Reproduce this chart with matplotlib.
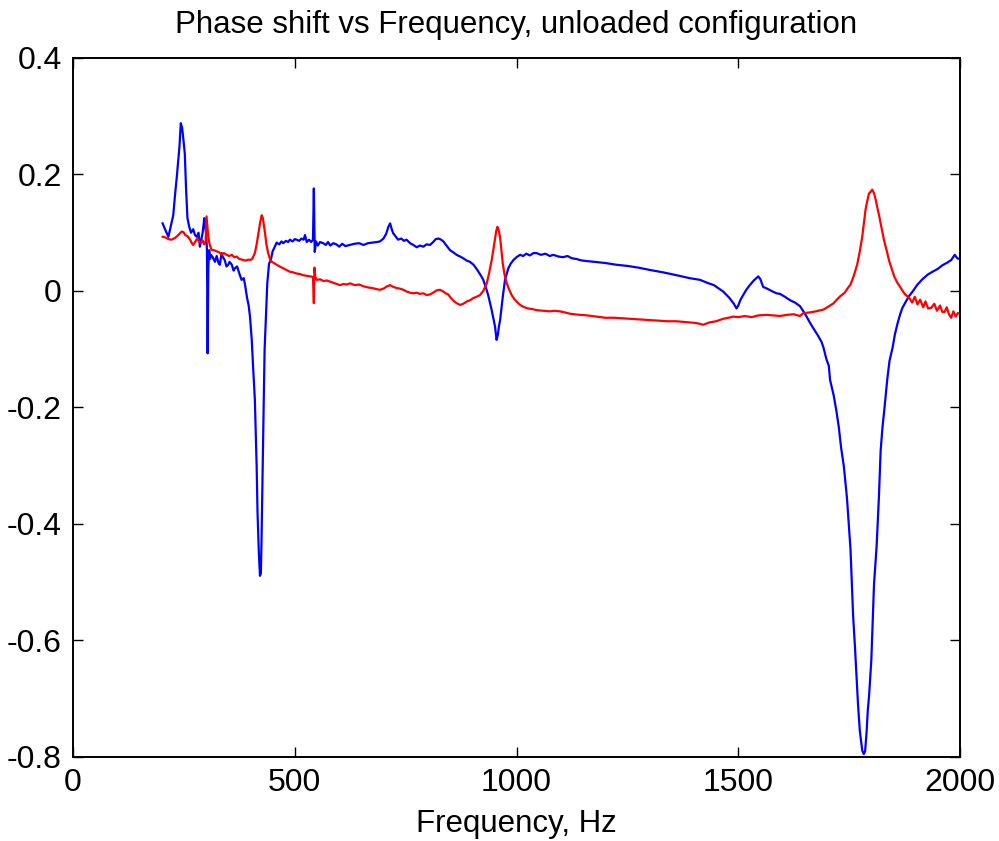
import matplotlib
matplotlib.use("Agg")
import matplotlib.pyplot as plt

# blue curve
freq_blue = [202, 208, 215, 220, 226, 230, 234, 240, 243, 246, 249, 252, 255, 258, 262, 266, 271, 275, 279, 283,
             286, 290, 292, 296, 298, 300, 302, 303.5, 305, 307, 309, 311, 315, 320, 324, 328, 331, 335, 338, 342,
             346, 350, 353, 358, 362, 365, 370, 375, 380, 385, 388, 392, 396, 399, 403, 406, 410, 414, 416, 419,
             421.5, 423.5, 425, 427, 430, 432, 435, 438, 442, 446, 450, 455, 459, 465, 470, 474, 480, 485, 489, 495,
             500, 504, 510, 515, 520, 523, 527, 532, 537, 541, 543, 545, 548, 552, 557, 564, 570, 575, 580, 587,
             594, 600, 607, 614, 624, 635, 645, 655, 665, 675, 685, 692, 700, 706, 711, 715, 719, 722, 728, 733,
             740, 746, 752, 760, 767, 775, 782, 790, 797, 805, 812, 818, 824, 830, 835, 842, 850, 858, 865, 873,
             880, 888, 895, 903, 909, 914, 920, 925, 930, 936, 940, 944, 948, 951.5, 954, 955, 958, 960, 963, 966,
             969, 974, 978, 981.5, 987, 993, 1000, 1008, 1015, 1022, 1030, 1038, 1045, 1055, 1065, 1075, 1083, 1095, 1105, 1115,
             1125, 1135, 1143, 1150, 1175, 1200, 1225, 1250, 1275, 1301, 1330, 1361, 1390, 1414, 1430, 1445, 1466, 1480, 1490, 1496,
             1500, 1505, 1511, 1518, 1526, 1535, 1545, 1550, 1556, 1565, 1575, 1586, 1594, 1605, 1617, 1628, 1639, 1646, 1654, 1662,
             1670, 1680, 1688, 1692, 1699, 1704, 1707, 1715, 1721, 1726.5, 1732, 1738, 1745, 1749, 1753, 1756, 1759, 1763, 1766.6, 1770,
             1774, 1779.5, 1783, 1786, 1789.5, 1792, 1795, 1800, 1803, 1806, 1812, 1817, 1821, 1825, 1829, 1836, 1841, 1848, 1853, 1859,
             1865, 1870, 1878, 1885, 1894, 1904, 1915, 1927, 1938, 1950, 1960, 1972, 1980, 1988, 1994, 1999]
phase_blue = [0.116, 0.105, 0.093, 0.110, 0.130, 0.165, 0.196, 0.248, 0.288, 0.280, 0.259, 0.236, 0.173, 0.125, 0.110, 0.100, 0.106, 0.096, 0.093, 0.100,
              0.076, 0.092, 0.099, 0.125, 0.110, 0.100, 0.070, -0.107, 0.040, 0.070, 0.055, 0.062, 0.058, 0.050, 0.060, 0.048, 0.045, 0.065, 0.058, 0.053,
              0.042, 0.045, 0.050, 0.045, 0.035, 0.039, 0.042, 0.030, 0.019, 0.022, 0.010, -0.010, -0.025, -0.044, -0.084, -0.130, -0.187, -0.300, -0.380, -0.450,
              -0.489, -0.485, -0.430, -0.330, -0.190, -0.100, -0.044, 0.013, 0.047, 0.053, 0.068, 0.076, 0.083, 0.080, 0.085, 0.082, 0.086, 0.084, 0.088, 0.085,
              0.089, 0.088, 0.086, 0.090, 0.088, 0.096, 0.084, 0.088, 0.084, 0.088, 0.176, 0.067, 0.085, 0.078, 0.084, 0.082, 0.079, 0.084, 0.078, 0.082,
              0.080, 0.076, 0.081, 0.077, 0.079, 0.081, 0.082, 0.079, 0.082, 0.083, 0.084, 0.085, 0.090, 0.098, 0.110, 0.116, 0.105, 0.099, 0.093, 0.088,
              0.090, 0.086, 0.088, 0.082, 0.079, 0.075, 0.078, 0.076, 0.080, 0.079, 0.084, 0.089, 0.090, 0.088, 0.085, 0.078, 0.070, 0.066, 0.062, 0.059,
              0.056, 0.052, 0.050, 0.045, 0.039, 0.033, 0.026, 0.019, 0.008, -0.007, -0.020, -0.033, -0.048, -0.061, -0.078, -0.084, -0.075, -0.062, -0.050, -0.030,
              -0.010, 0.019, 0.030, 0.039, 0.047, 0.053, 0.058, 0.062, 0.060, 0.064, 0.061, 0.065, 0.065, 0.062, 0.064, 0.060, 0.062, 0.059, 0.058, 0.060,
              0.056, 0.055, 0.053, 0.052, 0.050, 0.048, 0.045, 0.043, 0.040, 0.036, 0.032, 0.027, 0.022, 0.019, 0.014, 0.010, -0.001, -0.012, -0.022, -0.030,
              -0.025, -0.015, -0.007, 0.002, 0.010, 0.018, 0.025, 0.020, 0.007, 0.004, 0.000, -0.004, -0.005, -0.010, -0.016, -0.020, -0.026, -0.034, -0.044, -0.055,
              -0.065, -0.077, -0.088, -0.097, -0.118, -0.128, -0.153, -0.179, -0.205, -0.233, -0.270, -0.301, -0.355, -0.400, -0.443, -0.500, -0.559, -0.610, -0.660, -0.710,
              -0.755, -0.789, -0.795, -0.790, -0.755, -0.720, -0.694, -0.633, -0.570, -0.504, -0.437, -0.355, -0.274, -0.235, -0.206, -0.151, -0.120, -0.097, -0.075, -0.056,
              -0.040, -0.029, -0.018, -0.009, 0.000, 0.011, 0.020, 0.028, 0.033, 0.038, 0.044, 0.049, 0.053, 0.062, 0.056, 0.055]

# red curve
freq_red = [202, 208, 215, 222, 230, 236, 241, 245, 249, 253, 258, 264, 268, 271, 276, 280, 284, 288, 292, 296,
            299, 301, 303, 305, 308, 312.7, 318, 324, 330, 335, 340, 346.6, 352, 358, 364, 369, 375, 380, 384, 390,
            395, 399, 404, 410, 414, 418, 422, 425.5, 428, 431, 433, 436, 440, 444, 448, 453, 459, 466, 474, 481,
            489, 496, 504, 512, 519, 527, 535, 541, 543, 544.5, 546, 549.5, 557, 565, 572, 579.5, 587, 595, 602, 610,
            617, 625, 635, 645, 655, 665, 675, 685, 692, 700, 708, 715, 722, 730, 737, 745, 752, 760, 767, 775,
            782, 790, 797, 805, 812, 820, 827.5, 835, 840, 846, 852, 858, 865, 872.6, 880, 888, 895, 903, 910, 917.7,
            925, 932.8, 938, 944, 948, 951.5, 954, 956.8, 959, 962.8, 966, 969, 973, 978, 983, 989, 995, 1000, 1008, 1015,
            1025, 1035, 1045.5, 1060, 1075, 1085, 1098, 1110, 1120, 1130, 1143, 1160, 1180, 1200, 1220, 1240, 1260, 1280, 1301, 1320,
            1340, 1360, 1376, 1390, 1405, 1421, 1435, 1450, 1465, 1478, 1489, 1500, 1515, 1530, 1545, 1564, 1580, 1594, 1610, 1625,
            1639, 1647, 1660, 1675, 1692, 1705, 1715, 1722, 1730, 1740, 1746, 1753, 1760, 1768, 1774, 1779.5, 1783, 1787, 1791, 1794.6,
            1798, 1802, 1806, 1809.7, 1813, 1817.4, 1822, 1829, 1835, 1840, 1846, 1851.6, 1858, 1866.5, 1875, 1885.5, 1892, 1898, 1904, 1910,
            1917, 1922, 1928, 1935, 1942, 1948, 1955, 1960, 1965, 1970, 1975, 1980, 1985, 1990, 1995, 1999]
phase_red = [0.093, 0.092, 0.089, 0.088, 0.091, 0.095, 0.099, 0.102, 0.101, 0.096, 0.094, 0.088, 0.082, 0.079, 0.085, 0.090, 0.085, 0.082, 0.087, 0.080,
             0.085, 0.128, 0.110, 0.093, 0.080, 0.070, 0.070, 0.068, 0.066, 0.063, 0.065, 0.062, 0.060, 0.062, 0.058, 0.059, 0.055, 0.054, 0.053, 0.052,
             0.054, 0.053, 0.055, 0.065, 0.080, 0.099, 0.118, 0.130, 0.125, 0.110, 0.099, 0.080, 0.065, 0.055, 0.050, 0.048, 0.045, 0.042, 0.039, 0.036,
             0.033, 0.032, 0.030, 0.029, 0.027, 0.026, 0.025, 0.024, -0.021, 0.040, 0.025, 0.019, 0.020, 0.017, 0.018, 0.016, 0.014, 0.012, 0.010, 0.012,
             0.011, 0.013, 0.010, 0.011, 0.008, 0.006, 0.005, 0.003, 0.002, 0.004, 0.008, 0.010, 0.007, 0.005, 0.004, 0.002, -0.001, -0.003, -0.004, -0.003,
             -0.005, -0.004, -0.007, -0.006, -0.003, 0.001, 0.002, -0.001, -0.004, -0.006, -0.012, -0.017, -0.021, -0.024, -0.022, -0.018, -0.016, -0.012, -0.010, -0.007,
             0.000, 0.013, 0.030, 0.053, 0.072, 0.090, 0.102, 0.110, 0.107, 0.093, 0.070, 0.047, 0.028, 0.013, 0.003, -0.007, -0.014, -0.018, -0.024, -0.027,
             -0.030, -0.031, -0.033, -0.034, -0.035, -0.034, -0.035, -0.037, -0.039, -0.040, -0.041, -0.042, -0.044, -0.046, -0.046, -0.047, -0.048, -0.049, -0.050, -0.051,
             -0.052, -0.052, -0.053, -0.054, -0.055, -0.058, -0.054, -0.052, -0.048, -0.046, -0.044, -0.045, -0.043, -0.045, -0.042, -0.041, -0.042, -0.043, -0.041, -0.040,
             -0.043, -0.038, -0.037, -0.035, -0.032, -0.026, -0.021, -0.015, -0.009, -0.003, 0.004, 0.011, 0.025, 0.045, 0.068, 0.093, 0.115, 0.140, 0.155, 0.167,
             0.170, 0.174, 0.168, 0.157, 0.145, 0.130, 0.112, 0.086, 0.068, 0.052, 0.038, 0.025, 0.015, 0.005, -0.005, -0.012, -0.020, -0.010, -0.023, -0.015,
             -0.028, -0.018, -0.030, -0.029, -0.022, -0.034, -0.025, -0.036, -0.036, -0.028, -0.040, -0.046, -0.035, -0.044, -0.038, -0.039]

plt.rcParams['font.family'] = ['Liberation Sans', 'DejaVu Sans']

fig = plt.figure(figsize=(9.99, 8.41), dpi=100)
ax = fig.add_axes([0.0731, 0.0999, 0.8879, 0.8312])

ax.plot(freq_blue, phase_blue, color="#0000ff", lw=1.6)
ax.plot(freq_red, phase_red, color="#ff0000", lw=1.6)

ax.set_xlim(0, 2000)
ax.set_ylim(-0.8, 0.4)
ax.set_xticks([0, 500, 1000, 1500, 2000])
ax.set_yticks([-0.8, -0.6, -0.4, -0.2, 0, 0.2, 0.4])
ax.set_yticklabels(["-0.8", "-0.6", "-0.4", "-0.2", "0", "0.2", "0.4"])
ax.tick_params(direction="in", length=7, width=1, top=True, right=True, labelsize=23, pad=8)
for s in ax.spines.values():
    s.set_linewidth(1.4)

ax.set_title("Phase shift vs Frequency, unloaded configuration", fontsize=22.5, pad=18)
ax.set_xlabel("Frequency, Hz", fontsize=22.5, labelpad=8)

fig.savefig("out.png", dpi=100)
